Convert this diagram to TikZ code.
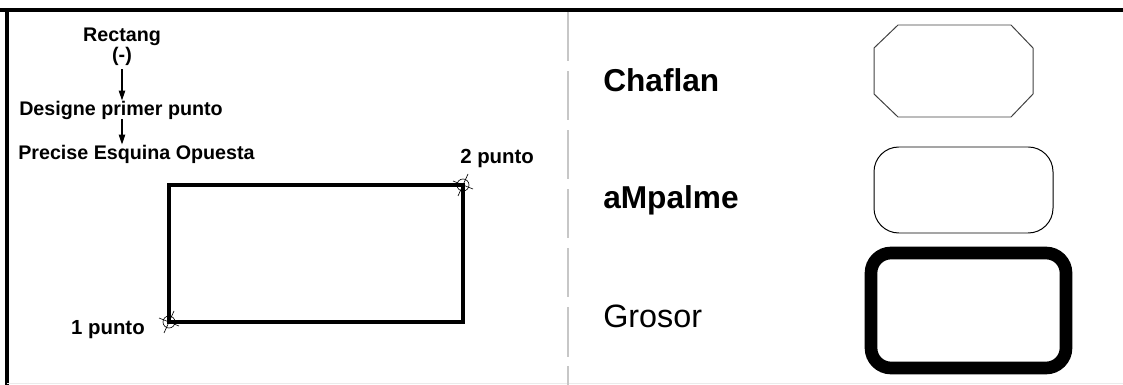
\documentclass[tikz,border=0pt]{standalone}
\usepackage{fontspec}
\setmainfont{Liberation Sans}
\usetikzlibrary{arrows.meta}

\tikzset{
  small/.style={font=\fontsize{14}{15}\selectfont\bfseries, inner sep=0pt},
  big/.style={font=\fontsize{22.5}{24}\selectfont\bfseries, anchor=west, inner sep=0pt},
  flow/.style={-{Triangle[length=7pt,width=4.5pt]}, line width=0.8pt},
  pick/.style={line width=0.45pt},
}

\begin{document}
\begin{tikzpicture}[x=0.025cm, y=-0.025cm]
	\useasboundingbox (0,0) rectangle (1123,385);
	% frame
	\draw [line width=2.8pt] (0,10) -- (1123,10);
	\draw [line width=2.8pt] (7,8.6) -- (7,385);
	\draw [line width=0.5pt, black!8] (7,383.5) -- (1123,383.5);
	\draw [line width=2pt, black!22, dash pattern=on 35pt off 7pt] (568,12) -- (568,385);

	% command sequence
	\node [small] (rect) at (122,37) {Rectang};
	\node [small] (dash) at (122,56) {(-)};
	\node [small] (first) at (121,110) {Designe primer punto};
	\node [small, anchor=west] (second) at (18,154) {Precise Esquina Opuesta};
	\draw [flow] (dash.south) ++(0,4) coordinate (a1) -- (a1 |- first.north);
	\draw [flow] (122,119) coordinate (a2) -- (a2 |- second.north);

	% rectangle by two corners
	\coordinate (p1) at (169,322);
	\coordinate (p2) at (463,185);
	\draw [line width=2.6pt] (p1) rectangle (p2);
	\foreach \p in {p1,p2} {
		\draw [pick] (\p) circle (6);
		\draw [pick] (\p) ++(-5,11) -- ++(10,-22);
		\draw [pick] (\p) ++(-10,-4) -- ++(20,8);
	}
	\node [small, font=\fontsize{14.5}{16}\selectfont\bfseries, anchor=east] (one) at (145,330) {1 punto};
	\node [small, font=\fontsize{14.5}{16}\selectfont\bfseries, anchor=west] (two) at (460,158) {2 punto};

	% options
	\node [big] (chaf) at (603,80) {Chaflan};
	\node [big] (emp) at (603,200) {aMpalme};
	\node [big, font=\fontsize{23}{24}\selectfont] (gros) at (603,316) {Grosor};

	\draw [line width=0.7pt, black!75] (898,25) -- (1011,25) -- (1033,48) -- (1033,94) -- (1011,117) -- (898,117) -- (874,94) -- (874,48) -- cycle;
	\draw [line width=0.7pt, rounded corners=0.62cm] (874,147) rectangle (1053,233);
	\draw [line width=9pt, rounded corners=0.5cm] (871,253) rectangle (1066,368);
\end{tikzpicture}
\end{document}
